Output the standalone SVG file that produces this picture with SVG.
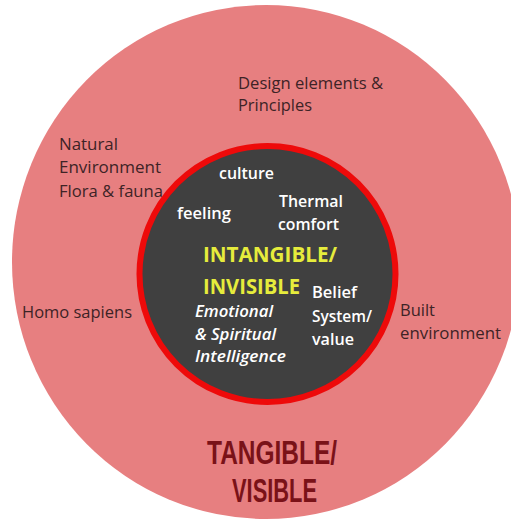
<svg xmlns="http://www.w3.org/2000/svg" width="511" height="524" viewBox="0 0 511 524">
<style>
text { font-family: "Open Sans", "Liberation Sans", sans-serif; }
.outer { fill: #3d2326; font-size: 16.5px; }
.inner { fill: #ffffff; font-size: 17px; font-weight: 600; }
.it { font-style: italic; font-size: 16px; }
.yel { fill: #e6ec3c; font-size: 22px; font-weight: 700; }
.tan { fill: #7a1218; font-size: 33.5px; font-weight: 700; font-family: "Liberation Sans", Arial, sans-serif; }
</style>
<rect width="511" height="524" fill="#ffffff"/>
<g id="tangible">
<ellipse cx="266" cy="262" rx="254" ry="257" fill="#e77f80"/>
<text class="outer" x="238" y="89" textLength="145" lengthAdjust="spacingAndGlyphs">Design elements &amp;</text>
<text class="outer" x="238" y="111" textLength="74" lengthAdjust="spacingAndGlyphs">Principles</text>
<text class="outer" x="59" y="150" textLength="59" lengthAdjust="spacingAndGlyphs">Natural</text>
<text class="outer" x="59" y="173" textLength="102" lengthAdjust="spacingAndGlyphs">Environment</text>
<text class="outer" x="59" y="197" textLength="104" lengthAdjust="spacingAndGlyphs">Flora &amp; fauna</text>
<text class="outer" x="22" y="318" textLength="110" lengthAdjust="spacingAndGlyphs">Homo sapiens</text>
<text class="outer" x="400" y="316" textLength="35" lengthAdjust="spacingAndGlyphs">Built</text>
<text class="outer" x="400" y="339" textLength="101" lengthAdjust="spacingAndGlyphs">environment</text>
<text class="tan" x="207" y="464" textLength="130" lengthAdjust="spacingAndGlyphs">TANGIBLE/</text>
<text class="tan" x="232" y="502" textLength="85" lengthAdjust="spacingAndGlyphs">VISIBLE</text>
</g>
<g id="intangible">
<circle cx="267.5" cy="274" r="128" fill="#404040" stroke="#ee0a0a" stroke-width="6"/>
<text class="inner" x="219" y="179" textLength="55" lengthAdjust="spacingAndGlyphs">culture</text>
<text class="inner" x="177" y="219" textLength="54" lengthAdjust="spacingAndGlyphs">feeling</text>
<text class="inner" x="279" y="207" textLength="64" lengthAdjust="spacingAndGlyphs">Thermal</text>
<text class="inner" x="278" y="230" textLength="61" lengthAdjust="spacingAndGlyphs">comfort</text>
<text class="yel" x="203" y="262" textLength="134" lengthAdjust="spacingAndGlyphs">INTANGIBLE/</text>
<text class="yel" x="203" y="293.5" textLength="97" lengthAdjust="spacingAndGlyphs">INVISIBLE</text>
<text class="inner it" x="195" y="317" textLength="78" lengthAdjust="spacingAndGlyphs">Emotional</text>
<text class="inner it" x="195" y="339.5" textLength="81" lengthAdjust="spacingAndGlyphs">&amp; Spiritual</text>
<text class="inner it" x="195" y="362" textLength="91" lengthAdjust="spacingAndGlyphs">Intelligence</text>
<text class="inner" x="312" y="298" textLength="45" lengthAdjust="spacingAndGlyphs">Belief</text>
<text class="inner" x="312" y="322" textLength="60" lengthAdjust="spacingAndGlyphs">System/</text>
<text class="inner" x="312" y="345" textLength="42" lengthAdjust="spacingAndGlyphs">value</text>
</g>
<g id="connectors"></g>
</svg>
